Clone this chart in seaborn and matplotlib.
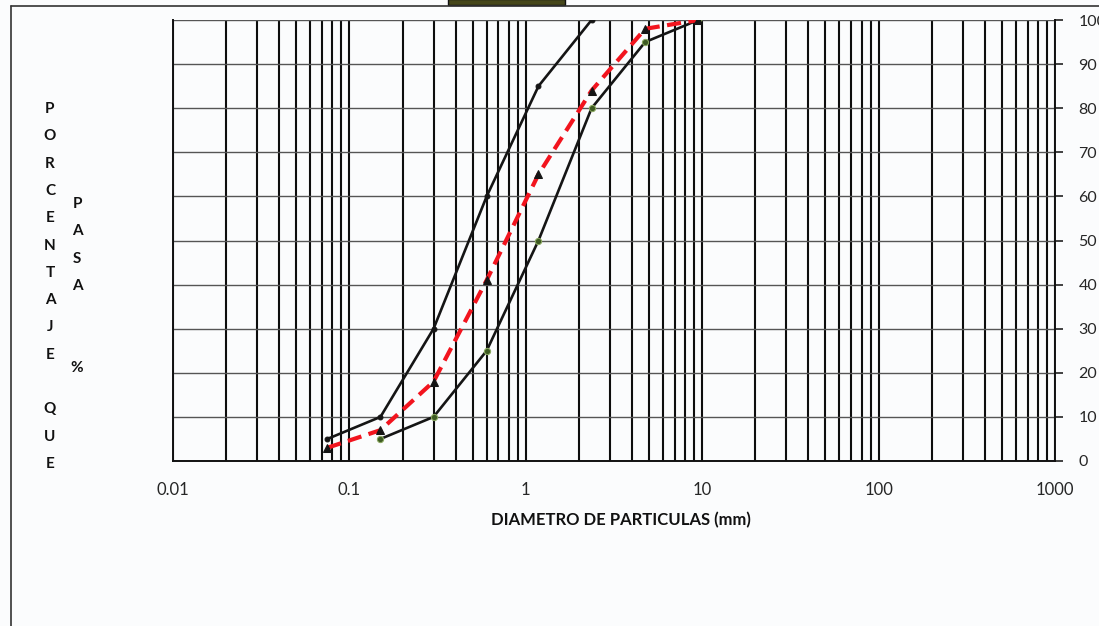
import matplotlib
matplotlib.use("Agg")
import matplotlib.pyplot as plt
from matplotlib.lines import Line2D
from matplotlib.patches import Rectangle
from matplotlib.ticker import LogLocator, FixedLocator, NullFormatter
import numpy as np
import pandas as pd
import seaborn as sns

# Sieve openings (mm) and percent passing
sieve_sizes = [0.075, 0.15, 0.3, 0.6, 1.18, 2.36, 4.75, 9.5]
upper_limit = [5, 10, 30, 60, 85, 100]            # first six sieves
lower_limit = [5, 10, 25, 50, 80, 95, 100]        # from 0.15 mm upward
sample_pass = [3, 7, 18, 41, 65, 84, 98, 100]

x_ticks = [0.01, 0.1, 1, 10, 100, 1000]
x_tick_labels = ["0.01", "0.1", "1", "10", "100", "1000"]
y_ticks = [0, 10, 20, 30, 40, 50, 60, 70, 80, 90, 100]
y_tick_labels = ["0", "10", "20", "30", "40", "50", "60", "70", "80", "90", "100"]

sns.set_style("white")
plt.rcParams["font.family"] = ["Lato", "DejaVu Sans"]

W, H = 1099, 626
bg = "#fbfcfd"
fig = plt.figure(figsize=(W / 100, H / 100), dpi=100, facecolor=bg)
ax = fig.add_axes([173 / W, 1 - 461 / H, (1055 - 173) / W, (461 - 20) / H])
ax.set_facecolor(bg)

ax.set_xscale("log")
ax.set_xlim(0.01, 1000)
ax.set_ylim(0, 100)

# grid: dark vertical log grid, grey horizontal lines
ax.xaxis.set_major_locator(FixedLocator(x_ticks))
ax.xaxis.set_minor_locator(LogLocator(base=10, subs=np.arange(2, 10)))
ax.xaxis.set_minor_formatter(NullFormatter())
ax.set_xticks(x_ticks)
ax.set_xticklabels(x_tick_labels, fontsize=12)
ax.grid(which="both", axis="x", color="#0d0d0d", lw=1.5)
ax.grid(which="major", axis="y", color="#555555", lw=1.0)
ax.set_axisbelow(True)

ax.yaxis.tick_right()
ax.set_yticks(y_ticks)
ax.set_yticklabels(y_tick_labels, fontsize=11.5)
ax.tick_params(axis="x", which="major", direction="out", length=6, width=1.2,
               color="#222222", pad=9)
ax.tick_params(axis="x", which="minor", length=0)
ax.tick_params(axis="y", which="major", direction="out", length=6, width=1.2,
               color="#222222", pad=11, right=True, left=False)

for side in ["left", "bottom", "right"]:
    ax.spines[side].set_color("#111111")
    ax.spines[side].set_linewidth(1.4)
ax.spines["top"].set_visible(False)

# gradation limits and tested sample
up_df = pd.DataFrame({"d": sieve_sizes[:6], "p": upper_limit})
lo_df = pd.DataFrame({"d": sieve_sizes[1:], "p": lower_limit})
sm_df = pd.DataFrame({"d": sieve_sizes, "p": sample_pass})

sns.lineplot(data=up_df, x="d", y="p", ax=ax, color="#151515", lw=1.9,
             marker="o", markersize=3.5, markerfacecolor="#151515",
             markeredgecolor="#151515", estimator=None, sort=False)
sns.lineplot(data=lo_df, x="d", y="p", ax=ax, color="#151515", lw=1.9,
             marker="o", markersize=4.5, markerfacecolor="#3d5a22",
             markeredgecolor="#8aa860", estimator=None, sort=False)
sns.lineplot(data=sm_df, x="d", y="p", ax=ax, color="#f2141e", lw=3.0,
             linestyle=(0, (3.4, 1.8)), marker="^", markersize=6,
             markerfacecolor="#151515", markeredgecolor="#151515",
             estimator=None, sort=False, zorder=5)

ax.set_xlabel("")
ax.set_ylabel("")

fig.text(621 / W, 1 - 520 / H, "DIAMETRO DE PARTICULAS (mm)", ha="center",
         va="center", fontsize=12, fontweight="bold", color="#111111")

# vertical axis title, one letter per line
col1 = "PORCENTAJE QUE"
y0, step = 109, 27.3
for i, ch in enumerate(col1):
    if ch != " ":
        fig.text(50 / W, 1 - (y0 + i * step) / H, ch, ha="center", va="center",
                 fontsize=11, fontweight="bold", color="#111111")
col2 = "PASA  %"
y1 = 204
for i, ch in enumerate(col2):
    if ch != " ":
        fig.text(77 / W, 1 - (y1 + i * step) / H, ch, ha="center", va="center",
                 fontsize=11, fontweight="bold", color="#111111")

# outer frame and header block
fig.add_artist(Line2D([11 / W, 1], [1 - 6 / H, 1 - 6 / H], color="#333333", lw=1.2))
fig.add_artist(Line2D([11 / W, 11 / W], [0, 1 - 6 / H], color="#333333", lw=1.2))
fig.add_artist(Rectangle((448 / W, 1 - 5 / H), (565 - 448) / W, 6 / H,
                         facecolor="#46471b", edgecolor="#111111", lw=1.0))

fig.savefig("out.png", dpi=100, facecolor=bg)
